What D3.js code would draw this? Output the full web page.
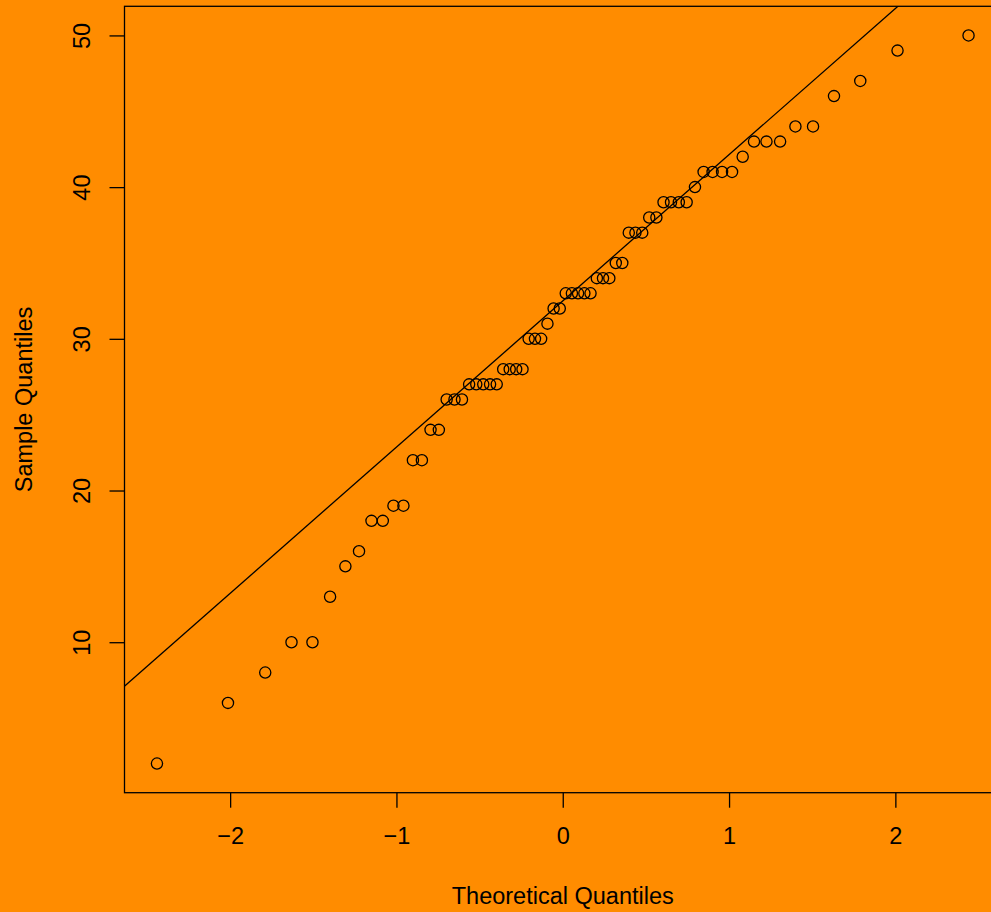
<!DOCTYPE html>
<html>
<head>
<meta charset="utf-8">
<script src="https://cdn.jsdelivr.net/npm/d3@7"></script>
<style>
  html, body { margin: 0; padding: 0; background: #FF8C00; overflow: hidden; }
  svg { display: block; }
  text { font-family: "Liberation Sans", Arial, Helvetica, sans-serif; fill: #000; }
</style>
</head>
<body>
<svg id="chart" width="991" height="912"></svg>
<script>
// Sorted sample values
const sampleValues = [
  2, 6, 8, 10, 10, 13, 15, 16, 18, 18, 19, 19, 22, 22, 24, 24,
  26, 26, 26, 27, 27, 27, 27, 27, 28, 28, 28, 28, 30, 30, 30, 31,
  32, 32, 33, 33, 33, 33, 33, 34, 34, 34, 35, 35, 37, 37, 37, 38,
  38, 39, 39, 39, 39, 40, 41, 41, 41, 41, 42, 43, 43, 43, 44, 44,
  46, 47, 49, 50
];
// Theoretical normal quantiles (x positions)
const theoreticalQuantiles = [
  -2.440, -2.013, -1.789, -1.631, -1.505, -1.399, -1.307, -1.225,
  -1.150, -1.082, -1.018, -0.958, -0.901, -0.847, -0.795, -0.745,
  -0.698, -0.651, -0.606, -0.563, -0.520, -0.478, -0.437, -0.397,
  -0.358, -0.319, -0.280, -0.242, -0.205, -0.167, -0.130, -0.092,
  -0.055, -0.018, 0.018, 0.055, 0.092, 0.130, 0.167, 0.205,
  0.242, 0.280, 0.319, 0.358, 0.397, 0.437, 0.478, 0.520,
  0.563, 0.606, 0.651, 0.698, 0.745, 0.795, 0.847, 0.901,
  0.958, 1.018, 1.082, 1.150, 1.225, 1.307, 1.399, 1.505,
  1.631, 1.789, 2.013, 2.440
];
const xTicks = [-2, -1, 0, 1, 2];
const yTicks = [10, 20, 30, 40, 50];
const xTickLabels = ["\u22122", "\u22121", "0", "1", "2"];
const yTickLabels = ["10", "20", "30", "40", "50"];
const xTitle = "Theoretical Quantiles";
const yTitle = "Sample Quantiles";

const svg = d3.select("#chart");
const W = 991, H = 912;
const plot = { left: 124.5, right: 1001, top: 6.3, bottom: 792.7 };

function rRange(arr) {
  const [a, b] = d3.extent(arr);
  const d = (b - a) * 0.04;
  return [a - d, b + d];
}

const x = d3.scaleLinear().domain(rRange(theoreticalQuantiles)).range([plot.left, plot.right]);
const y = d3.scaleLinear().domain(rRange(sampleValues)).range([plot.bottom, plot.top]);

svg.append("rect").attr("width", W).attr("height", H).attr("fill", "#FF8C00");

svg.append("defs").append("clipPath").attr("id", "plotclip")
  .append("rect")
  .attr("x", plot.left).attr("y", plot.top)
  .attr("width", plot.right - plot.left).attr("height", plot.bottom - plot.top);

// qqline through quartiles
const q1 = d3.quantile(sampleValues, 0.25), q3 = d3.quantile(sampleValues, 0.75);
const z1 = -0.6744898, z3 = 0.6744898;
const slope = (q3 - q1) / (z3 - z1);
const intercept = q1 - slope * z1;
const xd = x.domain();
svg.append("g").attr("clip-path", "url(#plotclip)")
  .append("line")
  .attr("x1", x(xd[0] - 1)).attr("y1", y(intercept + slope * (xd[0] - 1)))
  .attr("x2", x(xd[1] + 1)).attr("y2", y(intercept + slope * (xd[1] + 1)))
  .attr("stroke", "#000").attr("stroke-width", 1.3);

// points
svg.append("g").selectAll("circle")
  .data(sampleValues.map((v, i) => [theoreticalQuantiles[i], v]))
  .join("circle")
  .attr("cx", d => x(d[0])).attr("cy", d => y(d[1]))
  .attr("r", 5.6)
  .attr("fill", "none").attr("stroke", "#000").attr("stroke-width", 1.3);

// box
svg.append("rect")
  .attr("x", plot.left).attr("y", plot.top)
  .attr("width", plot.right - plot.left).attr("height", plot.bottom - plot.top)
  .attr("fill", "none").attr("stroke", "#000").attr("stroke-width", 1.3);

// x axis
const xAxis = d3.axisBottom(x).tickValues(xTicks)
  .tickFormat((d, i) => xTickLabels[i]).tickSize(15).tickPadding(20).tickSizeOuter(0);
const gx = svg.append("g").attr("transform", `translate(0,${plot.bottom})`).call(xAxis);
gx.select(".domain").remove();
gx.selectAll(".tick line").attr("stroke", "#000").attr("stroke-width", 1.3);
gx.selectAll(".tick text").attr("font-size", 23.5).attr("font-family", "Liberation Sans, Arial, sans-serif").attr("fill", "#000");

// y axis
const yAxis = d3.axisLeft(y).tickValues(yTicks)
  .tickFormat((d, i) => yTickLabels[i]).tickSize(15).tickSizeOuter(0);
const gy = svg.append("g").attr("transform", `translate(${plot.left},0)`).call(yAxis);
gy.select(".domain").remove();
gy.selectAll(".tick line").attr("stroke", "#000").attr("stroke-width", 1.3);
gy.selectAll(".tick text")
  .attr("font-size", 23.5).attr("font-family", "Liberation Sans, Arial, sans-serif").attr("fill", "#000")
  .attr("x", null).attr("dy", null)
  .attr("text-anchor", "middle")
  .attr("transform", `translate(${89.5 - plot.left},0) rotate(-90)`);

// titles
svg.append("text")
  .attr("x", (plot.left + plot.right) / 2).attr("y", 903.5)
  .attr("text-anchor", "middle").attr("font-size", 23.5)
  .text(xTitle);
svg.append("text")
  .attr("transform", `translate(31.5,${(plot.top + plot.bottom) / 2}) rotate(-90)`)
  .attr("text-anchor", "middle").attr("font-size", 23.5)
  .text(yTitle);
</script>
</body>
</html>
